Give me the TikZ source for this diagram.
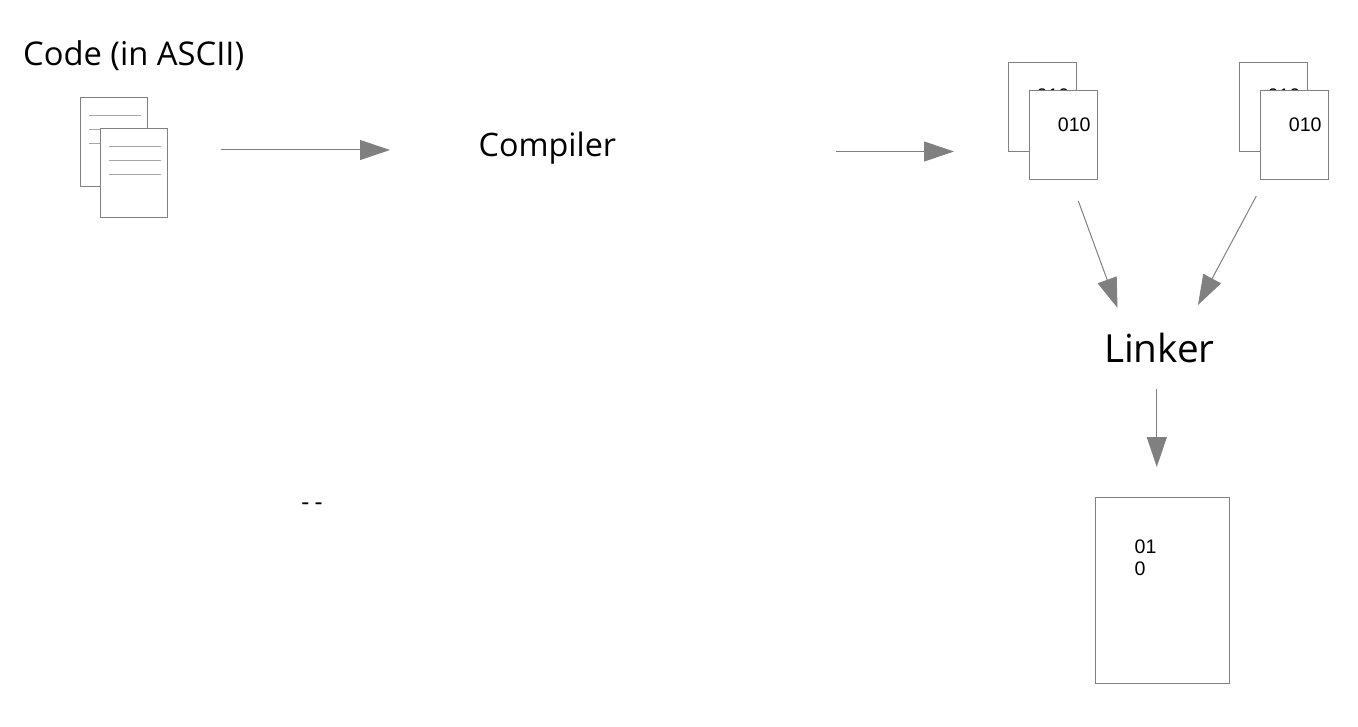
\documentclass[tikz,border=0pt]{standalone}
\usepackage{fontspec}
\setmainfont{Open Sans}
\newfontfamily\pagefont{Liberation Sans}
\usetikzlibrary{arrows.meta}
\definecolor{linegray}{HTML}{808080}
\definecolor{rulegray}{HTML}{A6A6A6}
\tikzset{
    page/.style={draw=linegray, fill=white, line width=1pt, inner sep=0pt, anchor=north west, minimum width=67pt, minimum height=89pt},
    flow/.style={draw=linegray, line width=1pt, -{Triangle[length=30pt, width=20pt, fill=linegray]}},
    bits/.style={font=\pagefont\fontsize{19.6}{22}\selectfont, inner sep=0pt},
    title/.style={font=\fontsize{32.3}{38}\selectfont, inner sep=0pt}
}
\begin{document}
\begin{tikzpicture}[x=1pt, y=-1pt]
\useasboundingbox (0,0) rectangle (1358,727);

\node[title, anchor=west, font=\fontsize{32.7}{38}\selectfont] (codelabel) at (23,55.5) {Code (in ASCII)};
\node[title] (compiler) at (547.4,148) {Compiler};
\node[title, font=\fontsize{38.7}{44}\selectfont] (linker) at (1159.4,348) {Linker};

% source pages
\node[page] (srcback) at (80,97) {};
\foreach \y in {115.5,129.5,143.5}
{
    \draw[rulegray, line width=1pt](89,\y)--(141,\y);
}
\node[page] (srcfront) at (100,128) {};
\foreach \y in {146.5,160.5,174.5}
{
    \draw[rulegray, line width=1pt](109,\y)--(161,\y);
}

% object pages
\foreach \n/\x in {a/1008,b/1239}
{
    \node[page, minimum width=67.7pt] (objback\n) at (\x,62) {};
    \node[bits] (bitsback\n) at (\x+45,96) {010};
    \node[page, minimum width=67.7pt] (objfront\n) at (\x+21,90) {};
    \node[bits] (bits\n) at (\x+66.2,125) {010};
}

% executable
\node[page, minimum width=134pt, minimum height=186pt] (exe) at (1095,497) {};
\node[bits, align=left, anchor=north west] (exebits) at (1134.4,539.2) {01\\0};

\node[inner sep=0pt, font=\fontsize{25}{30}\selectfont] (dashes) at (312,506.5) {-\hspace{5pt}-};

\coordinate (srcout) at (221,150);
\coordinate (compin) at (390,150);
\coordinate (compout) at (836,151.5);
\coordinate (objin) at (954,151.5);
\coordinate (objaout) at (1078.3,201);
\coordinate (linkina) at (1117.5,308);
\coordinate (objbout) at (1256.3,196);
\coordinate (linkinb) at (1198,305);
\coordinate (linkout) at (1156.8,389);
\coordinate (exein) at (1156.8,467);

\draw[flow](srcout)--(compin);
\draw[flow](compout)--(objin);
\draw[flow](objaout)--(linkina);
\draw[flow](objbout)--(linkinb);
\draw[flow](linkout)--(exein);
\end{tikzpicture}
\end{document}
